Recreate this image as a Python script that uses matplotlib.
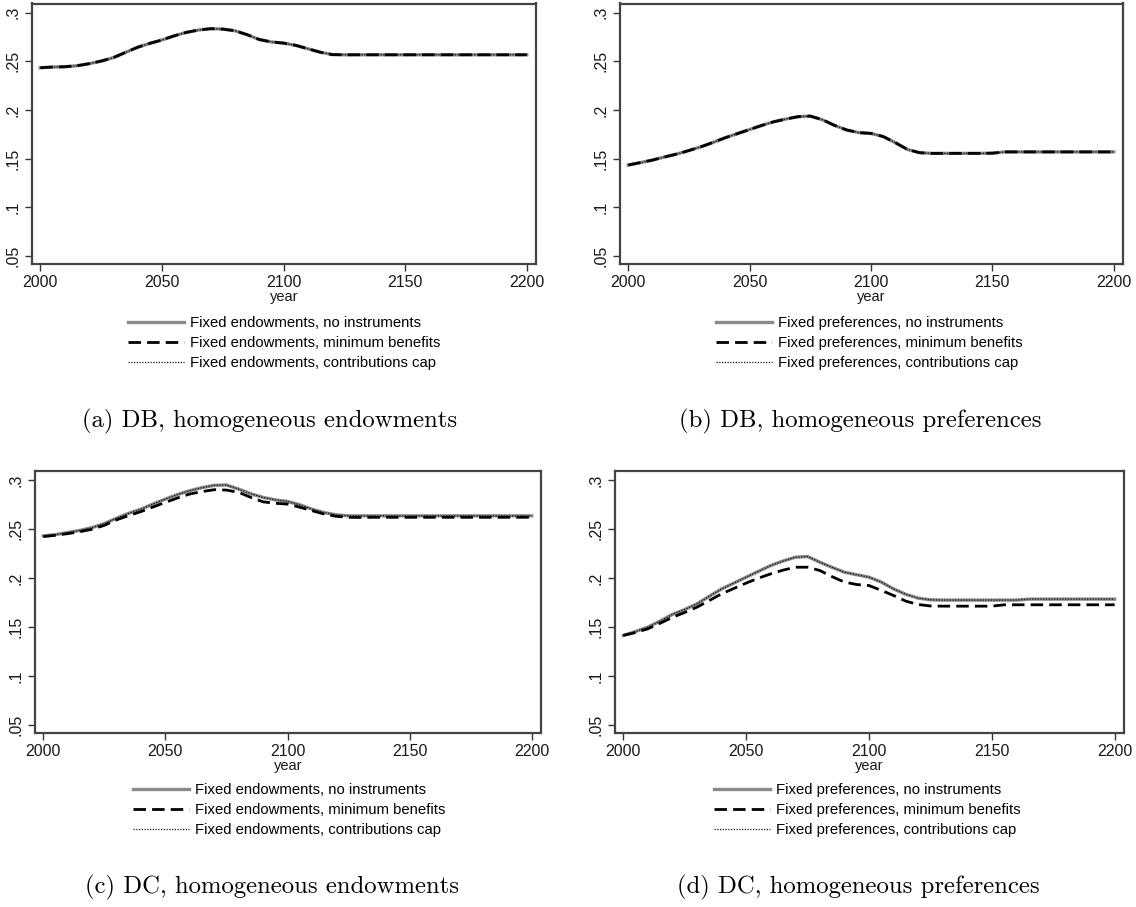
import matplotlib
matplotlib.use("Agg")
import matplotlib.pyplot as plt

plt.rcParams['font.family'] = ['Liberation Sans', 'DejaVu Sans']

# --- data ---
years = list(range(2000, 2201, 5))

a_noinst = [0.2435, 0.2442, 0.2445, 0.2455, 0.2476, 0.2503, 0.2538, 0.2592, 0.2645, 0.2685,
            0.2720, 0.2762, 0.2798, 0.2822, 0.2836, 0.2832, 0.2815, 0.2775, 0.2725, 0.2700,
            0.2688, 0.2665, 0.2630, 0.2595, 0.2570] + [0.2568] * 16
a_minben = list(a_noinst)
a_cap = list(a_noinst)

b_noinst = [0.1435, 0.1460, 0.1486, 0.1518, 0.1548, 0.1584, 0.1623, 0.1668, 0.1716, 0.1758,
            0.1800, 0.1842, 0.1880, 0.1908, 0.1932, 0.1938, 0.1900, 0.1842, 0.1795, 0.1768,
            0.1760, 0.1728, 0.1665, 0.1595, 0.1562, 0.1555, 0.1555, 0.1555, 0.1555, 0.1555,
            0.1557] + [0.1570] * 10
b_minben = list(b_noinst)
b_cap = list(b_noinst)

c_noinst = [0.2432, 0.2445, 0.2466, 0.2488, 0.2517, 0.2558, 0.2613, 0.2663, 0.2705, 0.2758,
            0.2808, 0.2855, 0.2894, 0.2925, 0.2949, 0.2952, 0.2910, 0.2862, 0.2825, 0.2800,
            0.2784, 0.2750, 0.2705, 0.2670, 0.2647] + [0.2637] * 16
c_minben = [0.2425, 0.2438, 0.2455, 0.2475, 0.2500, 0.2540, 0.2596, 0.2640, 0.2680, 0.2728,
            0.2774, 0.2820, 0.2860, 0.2885, 0.2904, 0.2900, 0.2877, 0.2825, 0.2780, 0.2765,
            0.2757, 0.2725, 0.2690, 0.2655, 0.2632, 0.2622, 0.2620] + [0.2622] * 14
c_cap = list(c_noinst)

d_noinst = [0.1415, 0.1455, 0.1500, 0.1562, 0.1630, 0.1680, 0.1738, 0.1815, 0.1890, 0.1950,
            0.2010, 0.2070, 0.2129, 0.2175, 0.2214, 0.2221, 0.2163, 0.2110, 0.2061, 0.2035,
            0.2010, 0.1960, 0.1890, 0.1835, 0.1796, 0.1779] + [0.1776] * 7 + [0.1786] * 8
d_minben = [0.1415, 0.1445, 0.1483, 0.1540, 0.1600, 0.1650, 0.1704, 0.1772, 0.1840, 0.1895,
            0.1950, 0.2000, 0.2044, 0.2082, 0.2112, 0.2112, 0.2078, 0.2015, 0.1960, 0.1935,
            0.1925, 0.1875, 0.1823, 0.1765, 0.1731, 0.1716] + [0.1714] * 5 + [0.1728] * 10
d_cap = list(d_noinst)

ytick_vals = [0.05, 0.1, 0.15, 0.2, 0.25, 0.3]
ytick_labels = ['.05', '.1', '.15', '.2', '.25', '.3']
xtick_vals = [2000, 2050, 2100, 2150, 2200]

panels = [
    # (axes rect, series, legend word, caption, legend anchor, caption pos)
    ([32 / 1136, 1 - 264 / 907, 504 / 1136, 260.5 / 907], (a_noinst, a_minben, a_cap),
     'endowments', '(a) DB, homogeneous endowments', (128 / 1136, 1 - 316 / 907), (270 / 1136, 1 - 421 / 907)),
    ([620 / 1136, 1 - 264 / 907, 503 / 1136, 260.5 / 907], (b_noinst, b_minben, b_cap),
     'preferences', '(b) DB, homogeneous preferences', (716 / 1136, 1 - 316 / 907), (860 / 1136, 1 - 421 / 907)),
    ([35 / 1136, 1 - 733 / 907, 506 / 1136, 262 / 907], (c_noinst, c_minben, c_cap),
     'endowments', '(c) DC, homogeneous endowments', (133 / 1136, 1 - 783 / 907), (272 / 1136, 1 - 887 / 907)),
    ([615 / 1136, 1 - 733 / 907, 509 / 1136, 262 / 907], (d_noinst, d_minben, d_cap),
     'preferences', '(d) DC, homogeneous preferences', (714 / 1136, 1 - 783 / 907), (858 / 1136, 1 - 887 / 907)),
]

fig = plt.figure(figsize=(11.36, 9.07), dpi=100)

for rect, series, word, caption, leg_xy, cap_xy in panels:
    ax = fig.add_axes(rect)
    noinst, minben, cap = series
    ax.plot(years, noinst, color='#8a8a8a', lw=2.4,
            label='Fixed %s, no instruments' % word)
    ax.plot(years, minben, color='black', lw=2.0, dashes=(4.5, 2.2),
            label='Fixed %s, minimum benefits' % word)
    ax.plot(years, cap, color='#111111', lw=0.9, ls=(0, (1, 1.2)),
            label='Fixed %s, contributions cap' % word)

    ax.set_xlim(1996.6, 2203.8)
    ax.set_ylim(0.0418, 0.3095)
    ax.set_xticks(xtick_vals)
    ax.set_yticks(ytick_vals)
    ax.set_yticklabels(ytick_labels, rotation=90, va='center')
    ax.tick_params(axis='both', labelsize=11.5, length=5, width=1, color='#333333',
                   labelcolor='#1a1a1a', pad=3)
    for s in ax.spines.values():
        s.set_color('#444444')
        s.set_linewidth(1.6)
    ax.set_xlabel('year', fontsize=10.5, labelpad=0, color='#1a1a1a')

    ax.legend(loc='upper left', bbox_to_anchor=leg_xy, bbox_transform=fig.transFigure,
              frameon=False, fontsize=10.7, handlelength=3.8, handletextpad=0.4,
              labelspacing=0.4, borderpad=0, borderaxespad=0)

    fig.text(cap_xy[0], cap_xy[1], caption, ha='center', va='center', fontsize=17.8,
             family=['cmr10', 'DejaVu Serif'])

fig.savefig('out.png', dpi=100)
